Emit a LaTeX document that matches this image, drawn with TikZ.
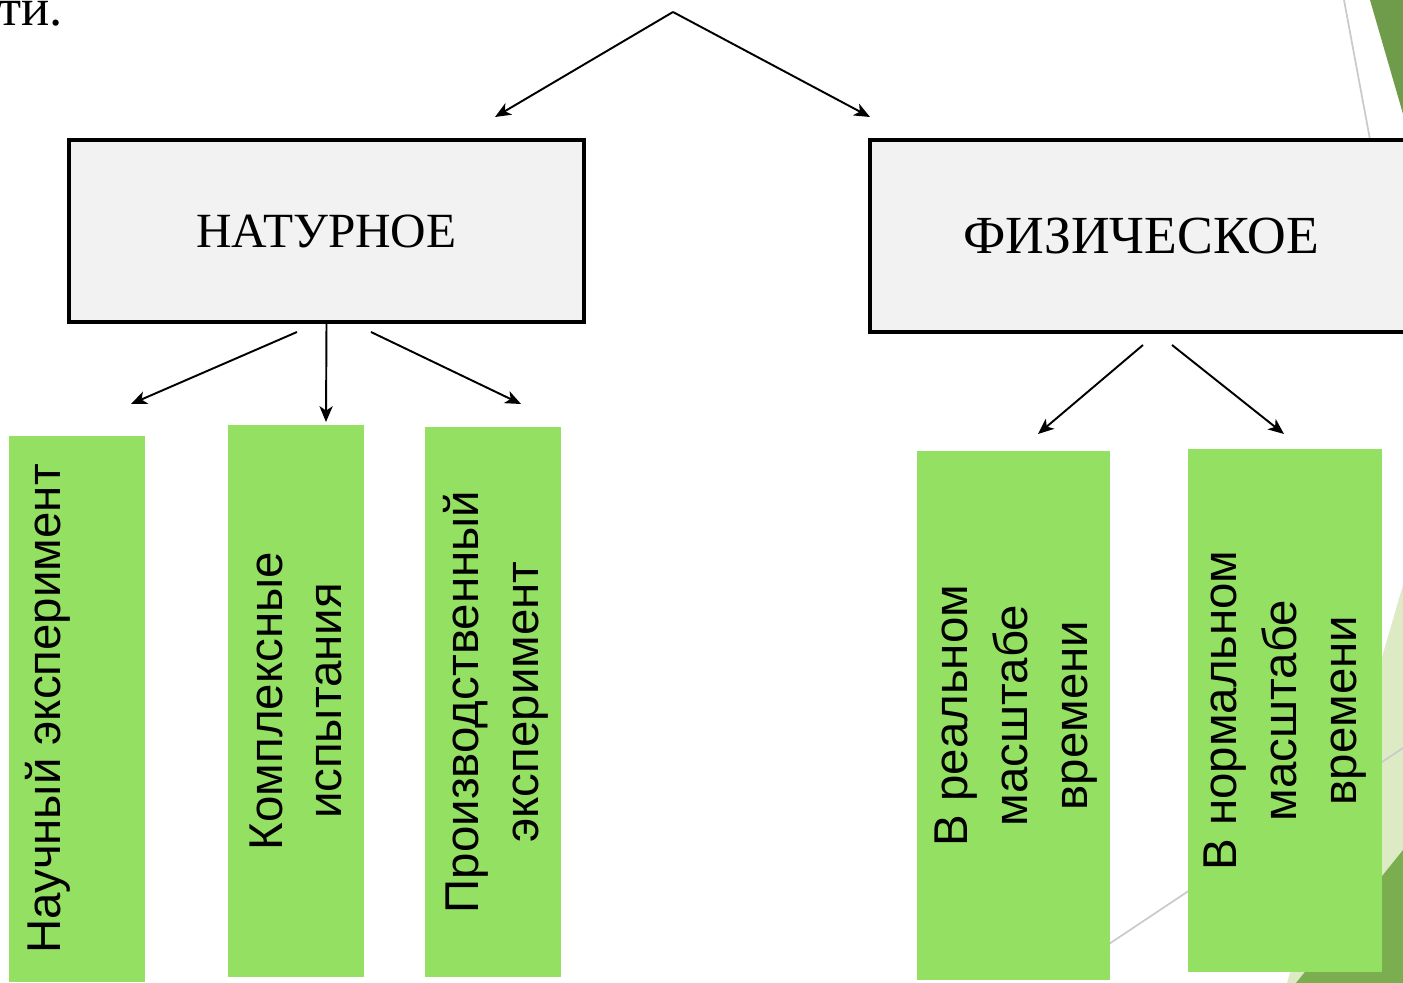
\documentclass[tikz,border=0pt]{standalone}
\usepackage{fontspec}
\setmainfont{Liberation Serif}
\setsansfont{Liberation Sans}
\usetikzlibrary{arrows.meta,positioning}
\definecolor{boxgray}{HTML}{F2F2F2}
\definecolor{leafgreen}{HTML}{94E062}
\definecolor{decodark}{HTML}{7AAE4E}
\definecolor{decotop}{HTML}{6F9C4A}
\definecolor{decolight}{HTML}{DDEBC5}
\definecolor{decogray}{HTML}{CACACA}
\tikzset{
  headbox/.style={draw=black,fill=boxgray,line width=1.9pt,inner sep=0pt,font=\fontsize{28}{32}\selectfont},
  leafbox/.style={fill=leafgreen,inner sep=0pt},
  leaftext/.style={rotate=90,align=center,inner sep=0pt,font=\sffamily\fontsize{27}{34}\selectfont},
  branch/.style={-{Stealth[length=9pt,width=7.5pt,inset=2.5pt]},line width=1.1pt},
  decostroke/.style={decogray,line width=1pt}
}

\begin{document}
\begin{tikzpicture}[x=0.02cm,y=-0.02cm]
\useasboundingbox (0,0) rectangle (1403,983);
\clip (0,0) rectangle (1403,983);
% slide decoration
\fill[decotop] (1370,0)--(1403,0)--(1403,114)--cycle;
\draw[decostroke] (1344,0)--(1371,145);
\fill[decolight] (1403,585)--(1287,983)--(1403,983)--cycle;
\draw[decostroke] (1100,950)--(1403,748);
\fill[decodark] (1296,983)--(1403,850)--(1403,983)--cycle;
% end of the previous line of the slide
\node[anchor=base east,inner sep=0pt,font=\fontsize{30}{34}\selectfont] (tail) at (63,26) {ти.};
% heads
\node[headbox,minimum width=10.3cm,minimum height=3.64cm] (nat) at (326.5,231) {НАТУРНОЕ};
\node[headbox,minimum width=10.84cm,minimum height=3.84cm,font=\fontsize{30.5}{34}\selectfont] (phys) at (1141,236) {ФИЗИЧЕСКОЕ};
% leaves
\node[leafbox,minimum width=2.72cm,minimum height=10.92cm] (sci) at (77,709) {};
\node[leafbox,minimum width=2.72cm,minimum height=11.04cm] (test) at (296,701) {};
\node[leafbox,minimum width=2.72cm,minimum height=11cm] (prod) at (493,702) {};
\node[leafbox,minimum width=3.86cm,minimum height=10.58cm] (real) at (1013.5,715.5) {};
\node[leafbox,minimum width=3.88cm,minimum height=10.46cm] (norm) at (1285,710.5) {};
\node[leaftext] (scitxt) at ([xshift=-0.58cm]sci.center) {Научный эксперимент};
\node[leaftext] (testtxt) at (test.center) {Комплексные\\испытания};
\node[leaftext] (prodtxt) at ([xshift=0.06cm]prod.center) {Производственный\\эксперимент};
\node[leaftext] (realtxt) at ([xshift=0.05cm]real.center) {В реальном\\масштабе\\времени};
\node[leaftext] (normtxt) at (norm.center) {В нормальном\\масштабе\\времени};
% arrows
\coordinate (root) at (673,12);
\coordinate (natin) at (495,117);
\coordinate (physin) at (870,117);
\coordinate (natl) at (297,332);
\coordinate (natm) at (nat.south);
\coordinate (natr) at (371,332);
\coordinate (physl) at (1143,345);
\coordinate (physr) at (1172,345);
\coordinate (sciin) at (131,404);
\coordinate (testin) at (326,422);
\coordinate (prodin) at (521,404);
\coordinate (realin) at (1038,434);
\coordinate (normin) at (1284,434);
\draw[branch] (root)--(natin);
\draw[branch] (root)--(physin);
\draw[branch] (natl)--(sciin);
\draw[branch] (natm)--(testin);
\draw[branch] (natr)--(prodin);
\draw[branch] (physl)--(realin);
\draw[branch] (physr)--(normin);
\end{tikzpicture}
\end{document}
